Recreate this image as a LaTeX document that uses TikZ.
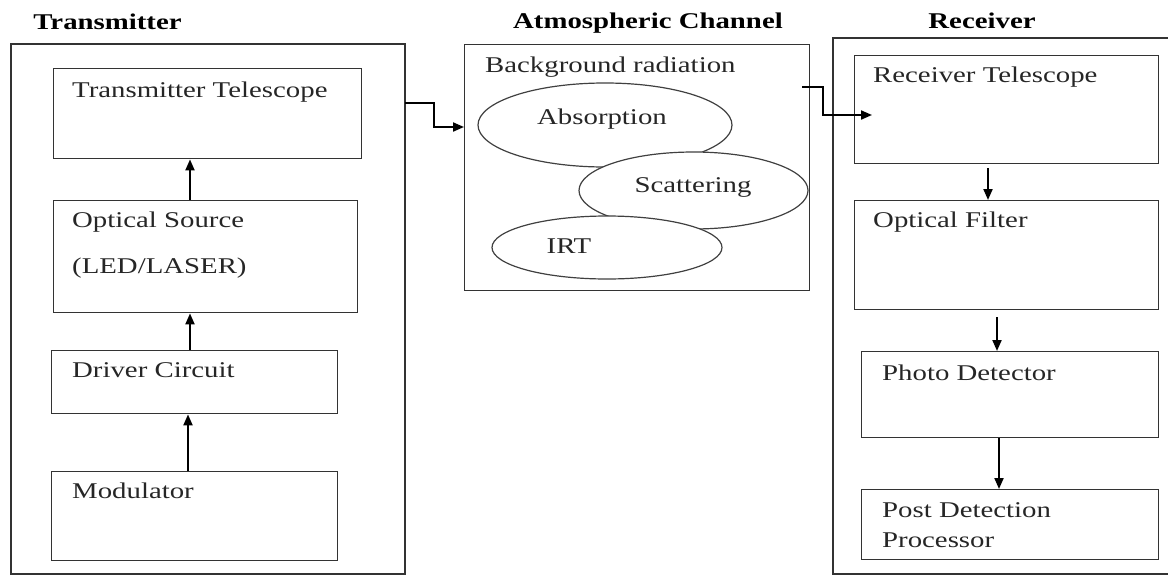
\documentclass[tikz,border=0pt]{standalone}
\usepackage{fontspec}
\setmainfont{Liberation Serif}[FakeStretch=1.28]
\usetikzlibrary{arrows.meta,shapes.geometric}
\begin{document}
\begin{tikzpicture}[x=1pt,y=-1pt,
  box/.style={draw=black!80,line width=1.4pt},
  outer/.style={draw=black!80,line width=1.4pt},
  ell/.style={draw=black!75,line width=1.2pt,ellipse,fill=white,inner sep=0pt},
  txt/.style={anchor=base west,inner sep=0pt,font=\fontsize{22.5}{26}\selectfont,text=black!85},
  ttl/.style={anchor=base,inner sep=0pt,font=\fontsize{22.5}{26}\selectfont\bfseries},
  arr/.style={draw=black,line width=2pt,-{Triangle[length=11pt,width=9pt]}}]
\useasboundingbox (0,0) rectangle (1168,576);
% titles
\node[ttl] (t1) at (107.5,29) {Transmitter};
\node[ttl] (t2) at (648,28) {Atmospheric Channel};
\node[ttl] (t3) at (982,28) {Receiver};
% transmitter
\draw[outer] (11,44) rectangle (405,574);
\node[box,minimum width=308,minimum height=90,anchor=north west] (tel) at (53,68) {};
\node[txt] at (72,97) {Transmitter Telescope};
\node[box,minimum width=304,minimum height=112,anchor=north west] (src) at (53,200) {};
\node[txt] at (72,227) {Optical Source};
\node[txt] at (72,273) {(LED/LASER)};
\node[box,minimum width=286,minimum height=63,anchor=north west] (drv) at (51,350) {};
\node[txt] at (72,377) {Driver Circuit};
\node[box,minimum width=286,minimum height=89,anchor=north west] (mod) at (51,471) {};
\node[txt] at (72,498) {Modulator};
\draw[arr] (190,200) -- (tel.south -| 190,0);
\draw[arr] (190,350) -- (src.south -| 190,0);
\draw[arr] (188,471) -- (drv.south -| 188,0);
% channel
\node[box,minimum width=345,minimum height=246,anchor=north west] (chan) at (464,44) {};
\node[txt] at (485,72) {Background radiation};
\node[ell,minimum width=254,minimum height=84] (abs) at (605,125) {};
\node[ell,minimum width=229,minimum height=77] (sca) at (693.5,190.5) {};
\node[ell,minimum width=230,minimum height=63] (irt) at (607,247.5) {};
\node[txt,anchor=base] at (602,124) {Absorption};
\node[txt,anchor=base] at (693,192) {Scattering};
\node[txt,anchor=base] at (569,253) {IRT};
% receiver
\draw[outer] (1169,38) -- (833,38) -- (833,574) -- (1169,574);
\node[box,minimum width=304,minimum height=108,anchor=north west] (rtel) at (854,55) {};
\node[txt] at (873,82) {Receiver Telescope};
\node[box,minimum width=304,minimum height=109,anchor=north west] (filt) at (854,200) {};
\node[txt] at (873,227) {Optical Filter};
\node[box,minimum width=297,minimum height=86,anchor=north west] (pd) at (861,351) {};
\node[txt] at (882,380) {Photo Detector};
\node[box,minimum width=297,minimum height=70,anchor=north west] (pdp) at (861,489) {};
\node[txt] at (882,517) {Post Detection};
\node[txt] at (882,547) {Processor};
\draw[arr] (988,168) -- (filt.north -| 988,0);
\draw[arr] (997,317) -- (pd.north -| 997,0);
\draw[arr] (pd.south -| 999,0) -- (pdp.north -| 999,0);
% links
\coordinate (o1) at (405,103);
\draw[arr] (o1) -| (434,127) -- (chan.west |- 0,127);
\coordinate (o2) at (802,87);
\coordinate (i2) at (872,115);
\draw[arr] (o2) -| (823,115) -- (i2);
\end{tikzpicture}
\end{document}
